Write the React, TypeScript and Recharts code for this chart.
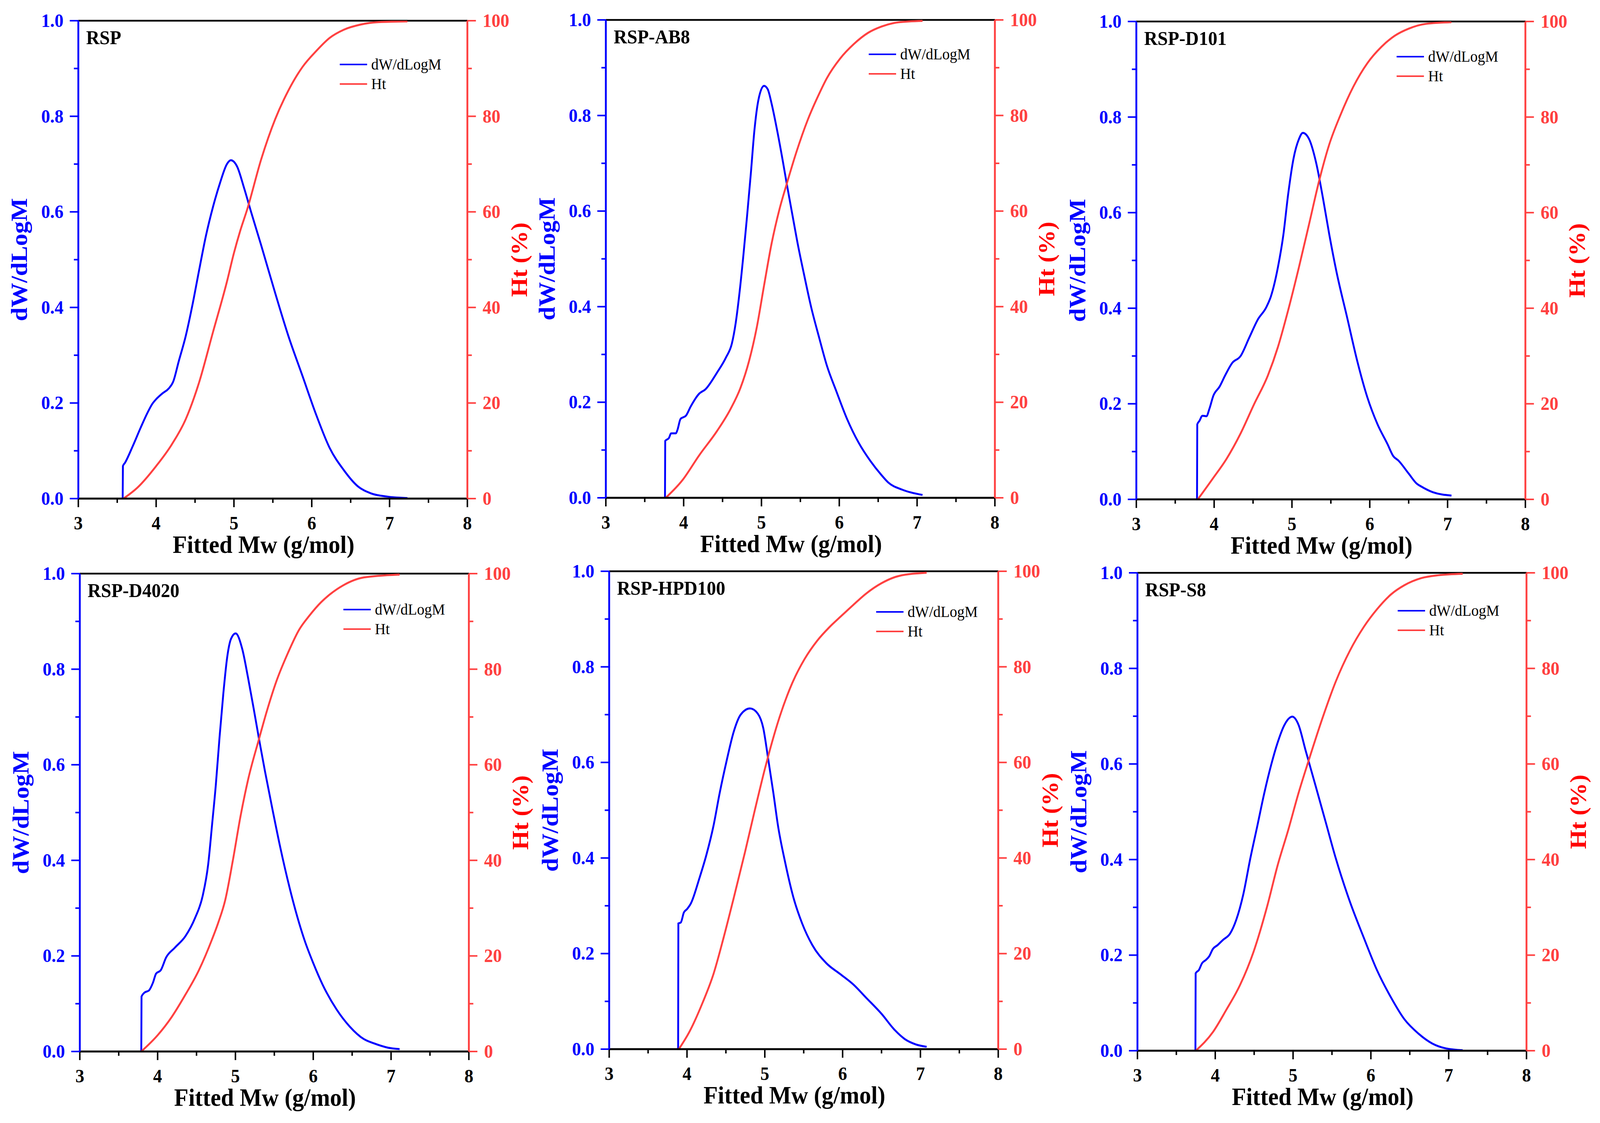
import { LineChart, Line, XAxis, YAxis, Legend, ReferenceLine } from "recharts";

/* ======================
 * DATA
 * ====================== */

// RSP
const rspMw = [3.57, 3.573, 3.6, 3.7, 3.8, 3.89, 3.95, 4.0, 4.08, 4.16, 4.22, 4.29, 4.38, 4.47, 4.55, 4.64, 4.73, 4.82, 4.91, 4.96, 5.04, 5.13, 5.22, 5.35, 5.53, 5.7, 5.88, 6.06, 6.23, 6.41, 6.59, 6.76, 6.98, 7.23];
const rspDw = [0, 0.068, 0.075, 0.11, 0.148, 0.18, 0.198, 0.208, 0.22, 0.23, 0.245, 0.287, 0.34, 0.408, 0.476, 0.55, 0.61, 0.66, 0.7, 0.708, 0.695, 0.65, 0.6, 0.53, 0.43, 0.34, 0.257, 0.174, 0.106, 0.06, 0.026, 0.011, 0.004, 0.001];
const rspHtMw = [3.58, 3.76, 4.0, 4.2, 4.38, 4.55, 4.73, 4.91, 5.0, 5.08, 5.17, 5.35, 5.53, 5.7, 5.88, 6.06, 6.23, 6.41, 6.63, 6.85, 7.23];
const rspHt = [0, 2.3, 6.8, 11.3, 16.6, 24.2, 34.8, 45.4, 51.4, 56, 60.5, 71, 79.4, 85.4, 90.3, 93.7, 96.4, 98.1, 99.2, 99.7, 99.85];

// RSP-AB8
const ab8Mw = [3.76, 3.763, 3.81, 3.84, 3.9, 3.92, 3.96, 4.03, 4.09, 4.2, 4.28, 4.425, 4.545, 4.62, 4.668, 4.717, 4.765, 4.813, 4.863, 4.91, 4.96, 5.033, 5.08, 5.13, 5.2, 5.276, 5.325, 5.4, 5.47, 5.545, 5.64, 5.74, 5.84, 5.96, 6.1, 6.25, 6.4, 6.54, 6.63, 6.81, 7.07];
const ab8Dw = [0, 0.119, 0.125, 0.135, 0.135, 0.142, 0.165, 0.172, 0.191, 0.218, 0.227, 0.261, 0.294, 0.323, 0.365, 0.428, 0.503, 0.586, 0.678, 0.77, 0.832, 0.862, 0.855, 0.825, 0.77, 0.703, 0.657, 0.59, 0.528, 0.469, 0.398, 0.336, 0.277, 0.224, 0.165, 0.115, 0.077, 0.048, 0.032, 0.017, 0.006];
const ab8HtMw = [3.77, 3.98, 4.2, 4.43, 4.6, 4.73, 4.84, 4.94, 5.033, 5.13, 5.23, 5.325, 5.45, 5.595, 5.74, 5.84, 6.01, 6.19, 6.37, 6.54, 6.76, 7.07];
const ab8Ht = [0, 3.6, 8.9, 14, 18.5, 23, 28.6, 35.7, 44.4, 53.2, 60.3, 65.7, 72.4, 79.1, 84.5, 87.8, 91.9, 95, 97.3, 98.6, 99.5, 99.8];

// RSP-D101
const d101Mw = [3.78, 3.783, 3.81, 3.85, 3.9, 3.94, 3.99, 4.07, 4.14, 4.23, 4.34, 4.45, 4.56, 4.67, 4.73, 4.82, 4.89, 4.95, 5.02, 5.09, 5.14, 5.22, 5.31, 5.4, 5.48, 5.57, 5.71, 5.84, 5.97, 6.1, 6.23, 6.3, 6.37, 6.5, 6.61, 6.65, 6.81, 7.05];
const d101Dw = [0, 0.157, 0.164, 0.175, 0.174, 0.19, 0.217, 0.236, 0.259, 0.285, 0.3, 0.338, 0.376, 0.402, 0.425, 0.486, 0.554, 0.637, 0.713, 0.754, 0.767, 0.754, 0.705, 0.629, 0.554, 0.478, 0.38, 0.289, 0.213, 0.157, 0.115, 0.091, 0.081, 0.054, 0.032, 0.028, 0.015, 0.008];
const d101HtMw = [3.79, 3.98, 4.16, 4.34, 4.51, 4.69, 4.82, 4.95, 5.09, 5.22, 5.35, 5.48, 5.62, 5.79, 5.97, 6.15, 6.32, 6.5, 6.72, 7.05];
const d101Ht = [0, 4.3, 8.5, 13.8, 19.8, 25.9, 31.9, 39.5, 48.6, 57.6, 66.7, 74.3, 80.3, 86.4, 91.3, 94.7, 97, 98.5, 99.5, 99.85];

// RSP-D4020
const d4020Mw = [3.79, 3.793, 3.83, 3.89, 3.94, 3.98, 4.04, 4.11, 4.22, 4.358, 4.48, 4.578, 4.65, 4.7, 4.748, 4.796, 4.845, 4.894, 4.942, 5.003, 5.088, 5.16, 5.235, 5.303, 5.38, 5.478, 5.575, 5.697, 5.82, 5.89, 6.0, 6.12, 6.3, 6.47, 6.65, 6.78, 6.96, 7.11];
const d4020Dw = [0, 0.115, 0.123, 0.128, 0.144, 0.163, 0.17, 0.197, 0.217, 0.2415, 0.279, 0.325, 0.392, 0.475, 0.558, 0.658, 0.75, 0.825, 0.863, 0.875, 0.842, 0.784, 0.717, 0.654, 0.586, 0.505, 0.428, 0.342, 0.268, 0.232, 0.185, 0.14, 0.088, 0.052, 0.026, 0.017, 0.008, 0.005];
const d4020HtMw = [3.79, 4.0, 4.18, 4.35, 4.53, 4.7, 4.78, 4.869, 4.967, 5.065, 5.16, 5.303, 5.405, 5.527, 5.675, 5.82, 5.95, 6.1, 6.21, 6.38, 6.65, 7.11];
const d4020Ht = [0, 3.4, 7.2, 11.7, 17, 23.5, 27, 31.7, 40, 49.2, 56.7, 65.4, 71.3, 77.5, 83.4, 88.3, 91.2, 94, 95.6, 97.5, 99.2, 99.8];

// RSP-HPD100
const hpdMw = [3.886, 3.889, 3.92, 3.96, 4.0, 4.05, 4.16, 4.25, 4.34, 4.42, 4.51, 4.6, 4.69, 4.81, 4.91, 4.98, 5.04, 5.11, 5.17, 5.26, 5.37, 5.48, 5.61, 5.79, 5.97, 6.14, 6.3, 6.5, 6.67, 6.8, 6.94, 7.08];
const hpdDw = [0, 0.263, 0.265, 0.286, 0.293, 0.305, 0.358, 0.407, 0.467, 0.536, 0.604, 0.664, 0.7, 0.713, 0.702, 0.672, 0.611, 0.536, 0.467, 0.392, 0.316, 0.263, 0.218, 0.18, 0.157, 0.135, 0.108, 0.074, 0.04, 0.021, 0.01, 0.005];
const hpdHtMw = [3.895, 4.03, 4.2, 4.34, 4.47, 4.6, 4.745, 4.87, 5.0, 5.06, 5.19, 5.35, 5.51, 5.67, 5.83, 5.98, 6.14, 6.3, 6.5, 6.72, 7.08];
const hpdHt = [0, 3.6, 9.7, 15.7, 23.3, 31.6, 41.2, 49.9, 58.6, 62.3, 69.5, 76.5, 81.6, 85.4, 88.3, 90.6, 93, 95.3, 97.5, 99, 99.7];

// RSP-S8
const s8Mw = [3.745, 3.748, 3.79, 3.83, 3.88, 3.92, 3.97, 4.03, 4.1, 4.19, 4.27, 4.36, 4.45, 4.54, 4.63, 4.72, 4.8, 4.89, 4.99, 5.07, 5.16, 5.29, 5.42, 5.55, 5.73, 5.91, 6.08, 6.26, 6.43, 6.61, 6.79, 6.96, 7.18];
const s8Dw = [0, 0.162, 0.169, 0.183, 0.19, 0.197, 0.213, 0.221, 0.232, 0.245, 0.274, 0.327, 0.402, 0.47, 0.539, 0.599, 0.644, 0.682, 0.699, 0.682, 0.629, 0.554, 0.478, 0.402, 0.312, 0.236, 0.168, 0.111, 0.066, 0.036, 0.015, 0.005, 0.001];
const s8HtMw = [3.75, 3.97, 4.14, 4.32, 4.49, 4.67, 4.8, 4.94, 5.07, 5.2, 5.38, 5.55, 5.73, 5.91, 6.08, 6.26, 6.43, 6.65, 6.87, 7.18];
const s8Ht = [0, 3.9, 8.5, 13.8, 20.6, 30.4, 38.7, 46.3, 53.9, 60.7, 69.7, 77.3, 83.7, 88.7, 92.4, 95.5, 97.4, 98.9, 99.5, 99.8];

// ticks (majors get labels, the rest are minor ticks)
const xTicks = [3, 3.5, 4, 4.5, 5, 5.5, 6, 6.5, 7, 7.5, 8];
const dwTicks = [0, 0.1, 0.2, 0.3, 0.4, 0.5, 0.6, 0.7, 0.8, 0.9, 1.0];
const htTicks = [0, 10, 20, 30, 40, 50, 60, 70, 80, 90, 100];
const legendOrder = ["dW/dLogM", "Ht"];

/* ======================
 * STYLE / LAYOUT
 * ====================== */

const FONT = '"Liberation Serif", "Times New Roman", serif';
const BLUE = "#0000ff";
const RED = "#ff4040";
const RED_TITLE = "#ff0000";

const PAGE_W = 4310;
const PAGE_H = 2874;
const PLOT_W = 1048;
const PLOT_H = 1223;

// cell of the page each panel owns: [x0, x1, y0, y1]
const panels = [
  { name: "RSP", cell: [0, 1435, 0, 1431], left: 211, top: 53, legTop: 112, legRight: 344, dwX: rspMw, dw: rspDw, htX: rspHtMw, ht: rspHt },
  { name: "RSP-AB8", cell: [1435, 2860, 0, 1431], left: 1632, top: 51, legTop: 88, legRight: 340, dwX: ab8Mw, dw: ab8Dw, htX: ab8HtMw, ht: ab8Ht },
  { name: "RSP-D101", cell: [2860, 4310, 0, 1431], left: 3061, top: 55, legTop: 90, legRight: 347, dwX: d101Mw, dw: d101Dw, htX: d101HtMw, ht: d101Ht },
  { name: "RSP-D4020", cell: [0, 1441, 1431, 2874], left: 215, top: 1468, legTop: 92, legRight: 338, dwX: d4020Mw, dw: d4020Dw, htX: d4020HtMw, ht: d4020Ht },
  { name: "RSP-HPD100", cell: [1441, 2866, 1431, 2874], left: 1641, top: 1462, legTop: 104, legRight: 329, dwX: hpdMw, dw: hpdDw, htX: hpdHtMw, ht: hpdHt },
  { name: "RSP-S8", cell: [2866, 4310, 1431, 2874], left: 3064, top: 1466, legTop: 97, legRight: 347, dwX: s8Mw, dw: s8Dw, htX: s8HtMw, ht: s8Ht },
];

const zip = (xs: number[], ys: number[]) => xs.map((x, i) => ({ x, y: ys[i] }));

/* ======================
 * TICKS / LEGEND / TITLES
 * ====================== */

const tickText = { fontFamily: FONT, fontWeight: "bold", fontSize: 48 } as const;
const titleText = { fontFamily: FONT, fontWeight: "bold", fontSize: 63 } as const;

const BottomTick = (props: any) => {
  const { x, y, payload } = props;
  const v = payload.value as number;
  const major = Number.isInteger(v);
  return (
    <g>
      <line x1={x} x2={x} y1={y} y2={y + (major ? 22 : 11)} stroke="#000" strokeWidth={4} />
      {major && (
        <text x={x} y={y + 79} textAnchor="middle" fill="#000" {...tickText}>
          {v}
        </text>
      )}
    </g>
  );
};

const LeftTick = (props: any) => {
  const { x, y, payload } = props;
  const v = payload.value as number;
  const major = Math.round(v * 10) % 2 === 0;
  return (
    <g>
      <line x1={x} x2={x - (major ? 23 : 12)} y1={y} y2={y} stroke={BLUE} strokeWidth={4} />
      {major && (
        <text x={x - 40} y={y + 16} textAnchor="end" fill={BLUE} {...tickText}>
          {v.toFixed(1)}
        </text>
      )}
    </g>
  );
};

const RightTick = (props: any) => {
  const { x, y, payload } = props;
  const v = payload.value as number;
  const major = Math.round(v) % 20 === 0;
  return (
    <g>
      <line x1={x} x2={x + (major ? 23 : 12)} y1={y} y2={y} stroke={RED} strokeWidth={4} />
      {major && (
        <text x={x + 41} y={y + 16} textAnchor="start" fill={RED} {...tickText}>
          {v}
        </text>
      )}
    </g>
  );
};

const LegendBox = ({ payload }: any) => {
  const items = [...(payload || [])].sort(
    (a: any, b: any) => legendOrder.indexOf(a.value) - legendOrder.indexOf(b.value)
  );
  return (
    <div style={{ fontFamily: FONT, fontSize: 40, color: "#000" }}>
      {items.map((e: any) => (
        <div key={e.value} style={{ display: "flex", alignItems: "center", height: 50 }}>
          <svg width={74} height={10}>
            <line x1={0} x2={74} y1={5} y2={5} stroke={e.color} strokeWidth={4} />
          </svg>
          <span style={{ marginLeft: 11, lineHeight: "50px", whiteSpace: "nowrap" }}>{e.value}</span>
        </div>
      ))}
    </div>
  );
};

// rotated axis title centred on (cx, cy)
const vTitle = (text: string, color: string, cx: number, cy: number) => () => (
  <text
    transform={`translate(${cx},${cy}) rotate(-90)`}
    x={0}
    y={22}
    textAnchor="middle"
    fill={color}
    {...titleText}
  >
    {text}
  </text>
);

const xTitle = (text: string, cx: number, baseline: number) => () => (
  <text x={cx} y={baseline} textAnchor="middle" fill="#000" {...titleText}>
    {text}
  </text>
);

/* ======================
 * PANEL
 * ====================== */

const Panel = ({ p }: { p: (typeof panels)[number] }) => {
  const [c0, c1, r0, r1] = p.cell;
  const leftW = p.left - c0;
  const topM = p.top - r0;
  const rightW = c1 - (p.left + PLOT_W);
  const bottomH = r1 - (p.top + PLOT_H);

  const dwData = zip(p.dwX, p.dw);
  const htData = zip(p.htX, p.ht);
  const midY = topM + PLOT_H / 2;

  return (
    <>
      <div style={{ position: "absolute", left: c0, top: r0 }}>
        <LineChart width={c1 - c0} height={r1 - r0} margin={{ top: topM, right: 0, bottom: 0, left: 0 }}>
          <XAxis
            type="number"
            dataKey="x"
            domain={[3, 8]}
            ticks={xTicks}
            interval={0}
            height={bottomH}
            tickSize={0}
            tickMargin={0}
            tickLine={false}
            tick={BottomTick}
            axisLine={{ stroke: "#000", strokeWidth: 5 }}
            allowDataOverflow
            label={xTitle("Fitted Mw (g/mol)", leftW + PLOT_W / 2 - 25, topM + PLOT_H + 139)}
          />
          <YAxis
            yAxisId="dw"
            orientation="left"
            domain={[0, 1]}
            ticks={dwTicks}
            interval={0}
            width={leftW}
            tickSize={0}
            tickMargin={0}
            tickLine={false}
            tick={LeftTick}
            axisLine={{ stroke: BLUE, strokeWidth: 5 }}
            allowDataOverflow
            label={vTitle("dW/dLogM", BLUE, leftW - 160, midY)}
          />
          <YAxis
            yAxisId="ht"
            orientation="right"
            domain={[0, 100]}
            ticks={htTicks}
            interval={0}
            width={rightW}
            tickSize={0}
            tickMargin={0}
            tickLine={false}
            tick={RightTick}
            axisLine={{ stroke: RED, strokeWidth: 5 }}
            allowDataOverflow
            label={vTitle("Ht (%)", RED_TITLE, leftW + PLOT_W + 138, midY)}
          />
          <ReferenceLine yAxisId="dw" y={1} stroke="#000" strokeWidth={4.5} />
          <Legend
            layout="vertical"
            align="center"
            verticalAlign="middle"
            wrapperStyle={{
              left: leftW + PLOT_W - p.legRight,
              top: topM + p.legTop - 25,
              width: "auto",
            }}
            content={LegendBox}
          />
          <Line
            data={dwData}
            dataKey="y"
            yAxisId="dw"
            name="dW/dLogM"
            type="monotone"
            stroke={BLUE}
            strokeWidth={5}
            dot={false}
            activeDot={false}
            isAnimationActive={false}
          />
          <Line
            data={htData}
            dataKey="y"
            yAxisId="ht"
            name="Ht"
            type="monotone"
            stroke={RED}
            strokeWidth={5}
            dot={false}
            activeDot={false}
            isAnimationActive={false}
          />
        </LineChart>
      </div>
      <div
        style={{
          position: "absolute",
          left: p.left + 21,
          top: p.top + 18,
          fontFamily: FONT,
          fontWeight: "bold",
          fontSize: 50,
          lineHeight: "50px",
          color: "#000",
          whiteSpace: "nowrap",
        }}
      >
        {p.name}
      </div>
    </>
  );
};

// the figure is laid out at 4310x2874; fit it to the viewport actually given
const App = () => {
  const vw = typeof window !== "undefined" ? window.innerWidth : PAGE_W;
  const vh = typeof window !== "undefined" ? window.innerHeight : PAGE_H;
  const sx = vw > 0 ? vw / PAGE_W : 1;
  const sy = vh > 0 ? vh / PAGE_H : 1;

  return (
    <div style={{ margin: -8, width: PAGE_W * sx, height: PAGE_H * sy, overflow: "hidden", background: "#fff" }}>
      <div
        style={{
          position: "relative",
          width: PAGE_W,
          height: PAGE_H,
          transform: `scale(${sx}, ${sy})`,
          transformOrigin: "0 0",
        }}
      >
        {panels.map((p) => (
          <Panel key={p.name} p={p} />
        ))}
      </div>
    </div>
  );
};

export default App;
